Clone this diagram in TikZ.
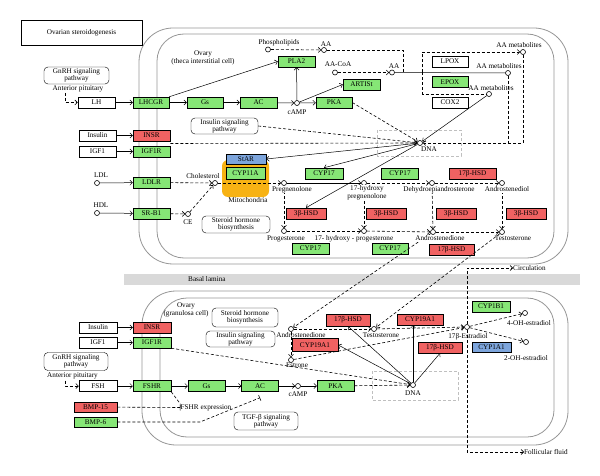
\documentclass[tikz,border=0pt]{standalone}
\usepackage{fontspec}
\setmainfont{Liberation Serif}
\usetikzlibrary{arrows.meta,calc}
\definecolor{kgreen}{RGB}{134,230,118}
\definecolor{kred}{RGB}{240,98,98}
\definecolor{kblue}{RGB}{125,165,220}
\definecolor{korange}{RGB}{247,178,20}
\definecolor{kcell}{RGB}{150,150,150}
\definecolor{kbar}{RGB}{217,217,217}
\tikzset{
  every node/.style={font=\fontsize{7.2}{8.2}\selectfont},
  gene/.style={draw, line width=0.5pt, rectangle, minimum height=11pt, inner sep=0pt},
  gg/.style={gene, fill=kgreen},
  gr/.style={gene, fill=kred},
  gb/.style={gene, fill=kblue},
  gw/.style={gene, fill=white},
  pw/.style={draw, rounded corners=4pt, align=center, inner sep=1pt, fill=white},
  cpd/.style={circle, draw, fill=white, minimum size=5pt, inner sep=0pt, line width=0.6pt},
  lbl/.style={inner sep=0pt, align=center},
  wlbl/.style={lbl, fill=white, inner sep=0.5pt},
  cell/.style={draw=kcell, line width=0.8pt},
  grayb/.style={draw=black!25, dash pattern=on 3pt off 2pt, line width=0.6pt},
  arr/.style={line width=0.5pt, -{Straight Barb[length=2.5pt,width=5pt]}},
  darr/.style={line width=0.6pt, dash pattern=on 3pt off 2pt, -{Straight Barb[length=2.5pt,width=5pt]}},
  dln/.style={line width=0.6pt, dash pattern=on 3pt off 2pt},
  inh/.style={line width=0.6pt, dash pattern=on 3pt off 2pt, -{Bar[width=6pt]}},
}
\begin{document}
\begin{tikzpicture}[x=1pt,y=-1pt]
\useasboundingbox (0,0) rectangle (600,476);
% ---------- compartments ----------
\draw[cell, rounded corners=34pt] (139,28) rectangle (568,264);
\draw[cell, rounded corners=27pt] (157,34) rectangle (554,258);
\fill[kbar] (124,274) rectangle (580,285);
\node[lbl, anchor=west] (basal) at (188,279.5) {Basal lamina};
\draw[cell, rounded corners=34pt] (142,291) rectangle (568,445);
\draw[cell, rounded corners=27pt] (160,298) rectangle (554,437);
\draw[grayb] (377,130) rectangle (461,156);
\draw[grayb] (372,371) rectangle (458,400);
\fill[korange, rounded corners=6pt] (222,160) rectangle (269,197);

% ---------- title and labels ----------
\node[draw, minimum width=121pt, minimum height=25pt] (title) at (81.5,32.5) {Ovarian steroidogenesis};
\node[lbl] (theca) at (203,58) {Ovary\\(theca interstitial cell)};
\node[lbl] (granu) at (186,310) {Ovary\\(granulosa cell)};
\node[lbl] (mito) at (248,200.5) {Mitochondria};

% ---------- upper (theca) ----------
\node[pw, minimum width=65pt, minimum height=17pt] (gnrh1) at (76.5,75.5) {GnRH signaling\\[-1.5pt]pathway};
\node[lbl] (ap1) at (78,88.5) {Anterior pituitary};
\node[gw, minimum width=37pt] (LH) at (96.5,102.5) {LH};
\node[gg, minimum width=36pt] (LHCGR) at (151,102.5) {LHCGR};
\node[gg, minimum width=36pt] (Gs1) at (205,102.5) {Gs};
\node[gg, minimum width=37pt] (AC1) at (258.5,102.5) {AC};
\node[cpd] (cAMP1) at (297,103) {};
\node[lbl] (lcAMP1) at (297,112) {cAMP};
\node[gg, minimum width=36pt] (PKA1) at (334,102.5) {PKA};
\node[gg, minimum width=37pt] (PLA2) at (296.5,61.5) {PLA2};
\node[gg, minimum width=37pt] (ARTISt) at (361.5,84.5) {ARTISt};
\node[cpd] (PL) at (268,49.5) {};
\node[lbl] (lPL) at (279,43) {Phospholipids};
\node[cpd] (AA1) at (324,50) {};
\node[lbl] (lAA1) at (326,44) {AA};
\node[cpd] (AACoA) at (335,72.5) {};
\node[lbl] (lAACoA) at (338,64.5) {AA-CoA};
\node[cpd] (AA2) at (392,72.5) {};
\node[lbl] (lAA2) at (394,66) {AA};
\node[gw, minimum width=36pt] (LPOX) at (450,61.5) {LPOX};
\node[gg, minimum width=36pt] (EPOX) at (450,82) {EPOX};
\node[gw, minimum width=36pt] (COX2) at (450,102.5) {COX2};
\node[cpd] (AAm1) at (523,52) {};
\node[lbl] (lAAm1) at (519,45) {AA metabolites};
\node[cpd] (AAm2) at (508,73) {};
\node[lbl] (lAAm2) at (499,66) {AA metabolites};
\node[cpd] (AAm3) at (489,94) {};
\node[lbl] (lAAm3) at (491,88) {AA metabolites};
\node[cpd] (DNA1) at (420,143) {};
\node[lbl] (lDNA1) at (429,149.5) {DNA};
\node[gw, minimum width=37pt] (Ins1) at (97.5,135.5) {Insulin};
\node[gr, minimum width=37pt] (INSR1) at (151.5,135.5) {INSR};
\node[gw, minimum width=37pt] (IGF1a) at (97.5,151.5) {IGF1};
\node[gg, minimum width=37pt] (IGF1R1) at (151.5,151.5) {IGF1R};
\node[pw, minimum width=67pt, minimum height=16pt] (inssig1) at (224.5,126) {Insulin signaling\\[-1.5pt]pathway};
\node[gb, minimum width=40pt, minimum height=10pt] (StAR) at (246,159) {StAR};
\node[gg, minimum width=39pt, minimum height=12pt] (CYP11A) at (245.5,173) {CYP11A};
\node[cpd] (LDL) at (97,183) {};
\node[lbl] (lLDL) at (101,175) {LDL};
\node[gg, minimum width=37pt] (LDLR) at (151.5,182.5) {LDLR};
\node[cpd] (HDL) at (97,213) {};
\node[lbl] (lHDL) at (101,205) {HDL};
\node[gg, minimum width=37pt] (SRB1) at (151.5,213.5) {SR-B1};
\node[cpd] (CE) at (188,214) {};
\node[lbl] (lCE) at (188,222.5) {CE};
\node[cpd] (Chol) at (215,183) {};
\node[lbl] (lChol) at (203,176) {Cholesterol};
\node[cpd] (Preg) at (284,183) {};
\node[cpd] (OHPreg) at (364,183) {};
\node[cpd] (DHEA) at (432,183) {};
\node[cpd] (Adiol) at (502,183) {};
\node[gg, minimum width=38pt] (CYP17a) at (324,173.5) {CYP17};
\node[gg, minimum width=37pt] (CYP17b) at (400,173.5) {CYP17};
\node[gr, minimum width=47pt] (HSD17a) at (472.5,173.5) {17β-HSD};
\node[gr, minimum width=40pt] (HSD3a) at (306,213.5) {3β-HSD};
\node[gr, minimum width=40pt] (HSD3b) at (386,213.5) {3β-HSD};
\node[gr, minimum width=40pt] (HSD3c) at (456,213.5) {3β-HSD};
\node[gr, minimum width=40pt] (HSD3d) at (526,213.5) {3β-HSD};
\node[pw, minimum width=68pt, minimum height=17pt] (shb1) at (236,224.5) {Steroid hormone\\[-1.5pt]biosynthesis};
\node[cpd] (Prog) at (284,231) {};
\node[lbl] (lProg) at (286,238.5) {Progesterone};
\node[cpd] (OHProg) at (364,231) {};
\node[lbl] (lOHProg) at (354,238.5) {17- hydroxy - progesterone};
\node[cpd] (Adione) at (433,232) {};
\node[cpd] (Testo) at (502,232) {};
\node[lbl] (lTesto) at (513,238.5) {Testosterone};
\node[gg, minimum width=37pt] (CYP17c) at (310.5,248.5) {CYP17};
\node[gg, minimum width=36pt] (CYP17d) at (390,248.5) {CYP17};
\node[gr, minimum width=45pt] (HSD17b) at (451.5,249.5) {17β-HSD};
\node[lbl, anchor=west] (circ) at (513,268) {Circulation};
\node[lbl, anchor=west] (foll) at (524,452) {Follicular fluid};

% ---------- lower (granulosa) ----------
\node[gw, minimum width=38pt] (Ins2) at (98,327.5) {Insulin};
\node[gr, minimum width=38pt] (INSR2) at (152,327.5) {INSR};
\node[gw, minimum width=38pt] (IGF2) at (98,342.5) {IGF1};
\node[gg, minimum width=38pt] (IGF1R2) at (152,342.5) {IGF1R};
\node[pw, minimum width=64pt, minimum height=18pt] (gnrh2) at (76,361.5) {GnRH signaling\\[-1.5pt]pathway};
\node[lbl] (ap2) at (72.5,375.5) {Anterior pituitary};
\node[gw, minimum width=38pt] (FSH) at (98,386) {FSH};
\node[gg, minimum width=38pt] (FSHR) at (152,386) {FSHR};
\node[gg, minimum width=37pt] (Gs2) at (206.5,386) {Gs};
\node[gg, minimum width=37pt] (AC2) at (260,386) {AC};
\node[cpd] (cAMP2) at (298,386) {};
\node[lbl] (lcAMP2) at (298,394.5) {cAMP};
\node[gg, minimum width=37pt] (PKA2) at (335.5,386) {PKA};
\node[cpd] (DNA2) at (413,385) {};
\node[lbl] (lDNA2) at (413,393.5) {DNA};
\node[gr, minimum width=43pt, minimum height=10pt] (BMP15) at (95.5,407) {BMP-15};
\node[gg, minimum width=43pt, minimum height=10pt] (BMP6) at (95.5,422) {BMP-6};
\node[lbl] (fshrexp) at (206,407.5) {FSHR expression};
\node[pw, minimum width=64pt, minimum height=18pt] (tgf) at (266,421) {TGF-β signaling\\[-1.5pt]pathway};
\node[pw, minimum width=66pt, minimum height=19pt] (shb2) at (245,317.5) {Steroid hormone\\[-1.5pt]biosynthesis};
\node[pw, minimum width=69pt, minimum height=16pt] (inssig2) at (240.5,339) {Insulin signaling\\[-1.5pt]pathway};
\node[cpd] (Adione2) at (291,329) {};
\node[lbl] (lAdione2) at (301,335.5) {Androstenedione};
\node[gr, minimum width=44pt, minimum height=12pt] (HSD17c) at (348,320) {17β-HSD};
\node[cpd] (Testo2) at (374,329) {};
\node[lbl] (lTesto2) at (381,335.5) {Testosterone};
\node[gr, minimum width=46pt, minimum height=13pt] (CYP19a) at (315,345) {CYP19A1};
\node[cpd] (Estrone) at (291,360) {};
\node[lbl] (lEstrone) at (297,365.5) {Estrone};
\node[gr, minimum width=46pt] (CYP19b) at (420,319.5) {CYP19A1};
\node[gr, minimum width=44pt] (HSD17d) at (440,347.5) {17β-HSD};
\node[cpd] (E2) at (467,327) {};
\node[lbl] (lE2) at (468,336.5) {17β-Estradiol};
\node[gg, minimum width=38pt] (CYP1B1) at (491,306.5) {CYP1B1};
\node[cpd] (OH4) at (525,313) {};
\node[lbl] (lOH4) at (529,323) {4-OH-estradiol};
\node[cpd] (OH2) at (526,342) {};
\node[lbl] (lOH2) at (526,358) {2-OH-estradiol};
\node[gb, minimum width=39pt, minimum height=10pt] (CYP1A1) at (491.5,347) {CYP1A1};

% ---------- connectors upper ----------
\coordinate (hook1) at (65,93);
\draw[darr] (hook1) -- (65,102.5) -- (LH.west);
\draw[arr] (LH) -- (LHCGR);
\draw[arr] (LHCGR) -- (Gs1);
\draw[arr] (Gs1) -- (AC1);
\draw[arr] (AC1) -- (cAMP1);
\draw[arr] (cAMP1) -- (PKA1);
\draw[arr] (LHCGR.north east) -- (PLA2.west);
\draw[arr] (cAMP1) -- (PLA2);
\draw[arr] (cAMP1) -- (ARTISt.west);
\draw[arr] (Ins1) -- (INSR1);
\draw[arr] (IGF1a) -- (IGF1R1);
\draw[darr] (PKA1.east) -- (DNA1);
\draw[darr] (inssig1.east) -- (DNA1);
\draw[darr] ($(INSR1.south east)!.5!(IGF1R1.north east)$) -- (DNA1);
\draw[arr] (DNA1) -- (StAR.east);
\draw[arr] (DNA1) -- (CYP17a.north);
\draw[arr] (DNA1) -- (HSD3a.north);
\draw[darr] (PL) -- (AA1);
\draw[dln] (AA1) -- (403,50) -- (403,72.5);
\draw[darr] (AACoA) -- (AA2);
\draw[line width=0.5pt] (AA2) -- (AAm2);
\draw[darr] (422,72.5) -- (422,52) -- (AAm1);
\draw[dln] (422,72.5) -- (422,94) -- (AAm3);
\draw[darr] (AAm1) -- (523,143) -- (DNA1);
\draw[dln] (AAm2) -- (508,143);
\draw[arr] (AAm3) -- (DNA1);
\draw[arr] (LDL) -- (LDLR);
\draw[arr] (HDL) -- (SRB1);
\draw[darr] (LDLR) -- (Chol);
\draw[darr] (SRB1) -- (CE);
\draw[darr] (CE) -- (Chol);
\draw[darr] (Chol) -- (Preg);
\draw[arr] (Preg) -- (OHPreg);
\draw[darr] (OHPreg) -- (DHEA);
\draw[darr] (DHEA) -- (Adiol);
\draw[darr] (Preg) -- (Prog);
\draw[darr] (OHPreg) -- (OHProg);
\draw[darr] (Prog) -- (OHProg);
\draw[darr] (DHEA) -- (Adione);
\draw[darr] (Adiol) -- (Testo);
\draw[darr] (OHProg) -- (Adione);
\draw[darr] (Adione) -- (Testo);
\draw[darr] (Adione) -- (Adione2);
\draw[darr] (Testo) -- (Testo2);
% labels drawn over the lines they sit on
\node[wlbl] (lPreg) at (292,189.5) {Pregnenolone};
\node[wlbl] (lOHPreg) at (367,193) {17-hydroxy\\pregnenolone};
\node[wlbl] (lDHEA) at (439,189.5) {Dehydroepiandrosterone};
\node[wlbl] (lAdiol) at (507,189.5) {Androstenediol};
\node[wlbl] (lAdione) at (440,238.5) {Androstenedione};

% ---------- connectors lower ----------
\coordinate (hook2) at (65,380.5);
\draw[darr] (hook2) -- (65,386) -- (FSH.west);
\draw[arr] (Ins2) -- (INSR2);
\draw[arr] (IGF2) -- (IGF1R2);
\draw[arr] (FSH) -- (FSHR);
\draw[arr] (FSHR) -- (Gs2);
\draw[arr] (Gs2) -- (AC2);
\draw[arr] (AC2) -- (cAMP2);
\draw[arr] (cAMP2) -- (PKA2);
\draw[darr] (PKA2) -- (DNA2);
\draw[darr] (IGF1R2.south east) -- (DNA2);
\draw[dln] (FSHR.south east) -- (fshrexp.north west);
\draw[inh] (BMP15) -- (fshrexp.west);
\draw[inh] (BMP6.east) -- (200,422) -- ([yshift=-6pt]AC2.south);
\draw[arr] (DNA2) -- (HSD17c.south);
\draw[arr] (DNA2) -- (CYP19a.east);
\draw[arr] (DNA2) -- (DNA2 |- CYP19b.south);
\draw[arr] (DNA2) -- (HSD17d.south);
\draw[darr] (Adione2) -- (Testo2);
\draw[darr] (Adione2) -- (Estrone);
\draw[darr] (Testo2) -- (E2);
\draw[darr] (Estrone) -- (E2);
\draw[darr] (E2) -- (OH4);
\draw[darr] (E2) -- (OH2);
\draw[darr] (E2.north) -- (467,268) -- (circ.west);
\draw[darr] (E2.south) -- (467,452) -- (foll.west);
\end{tikzpicture}
\end{document}
